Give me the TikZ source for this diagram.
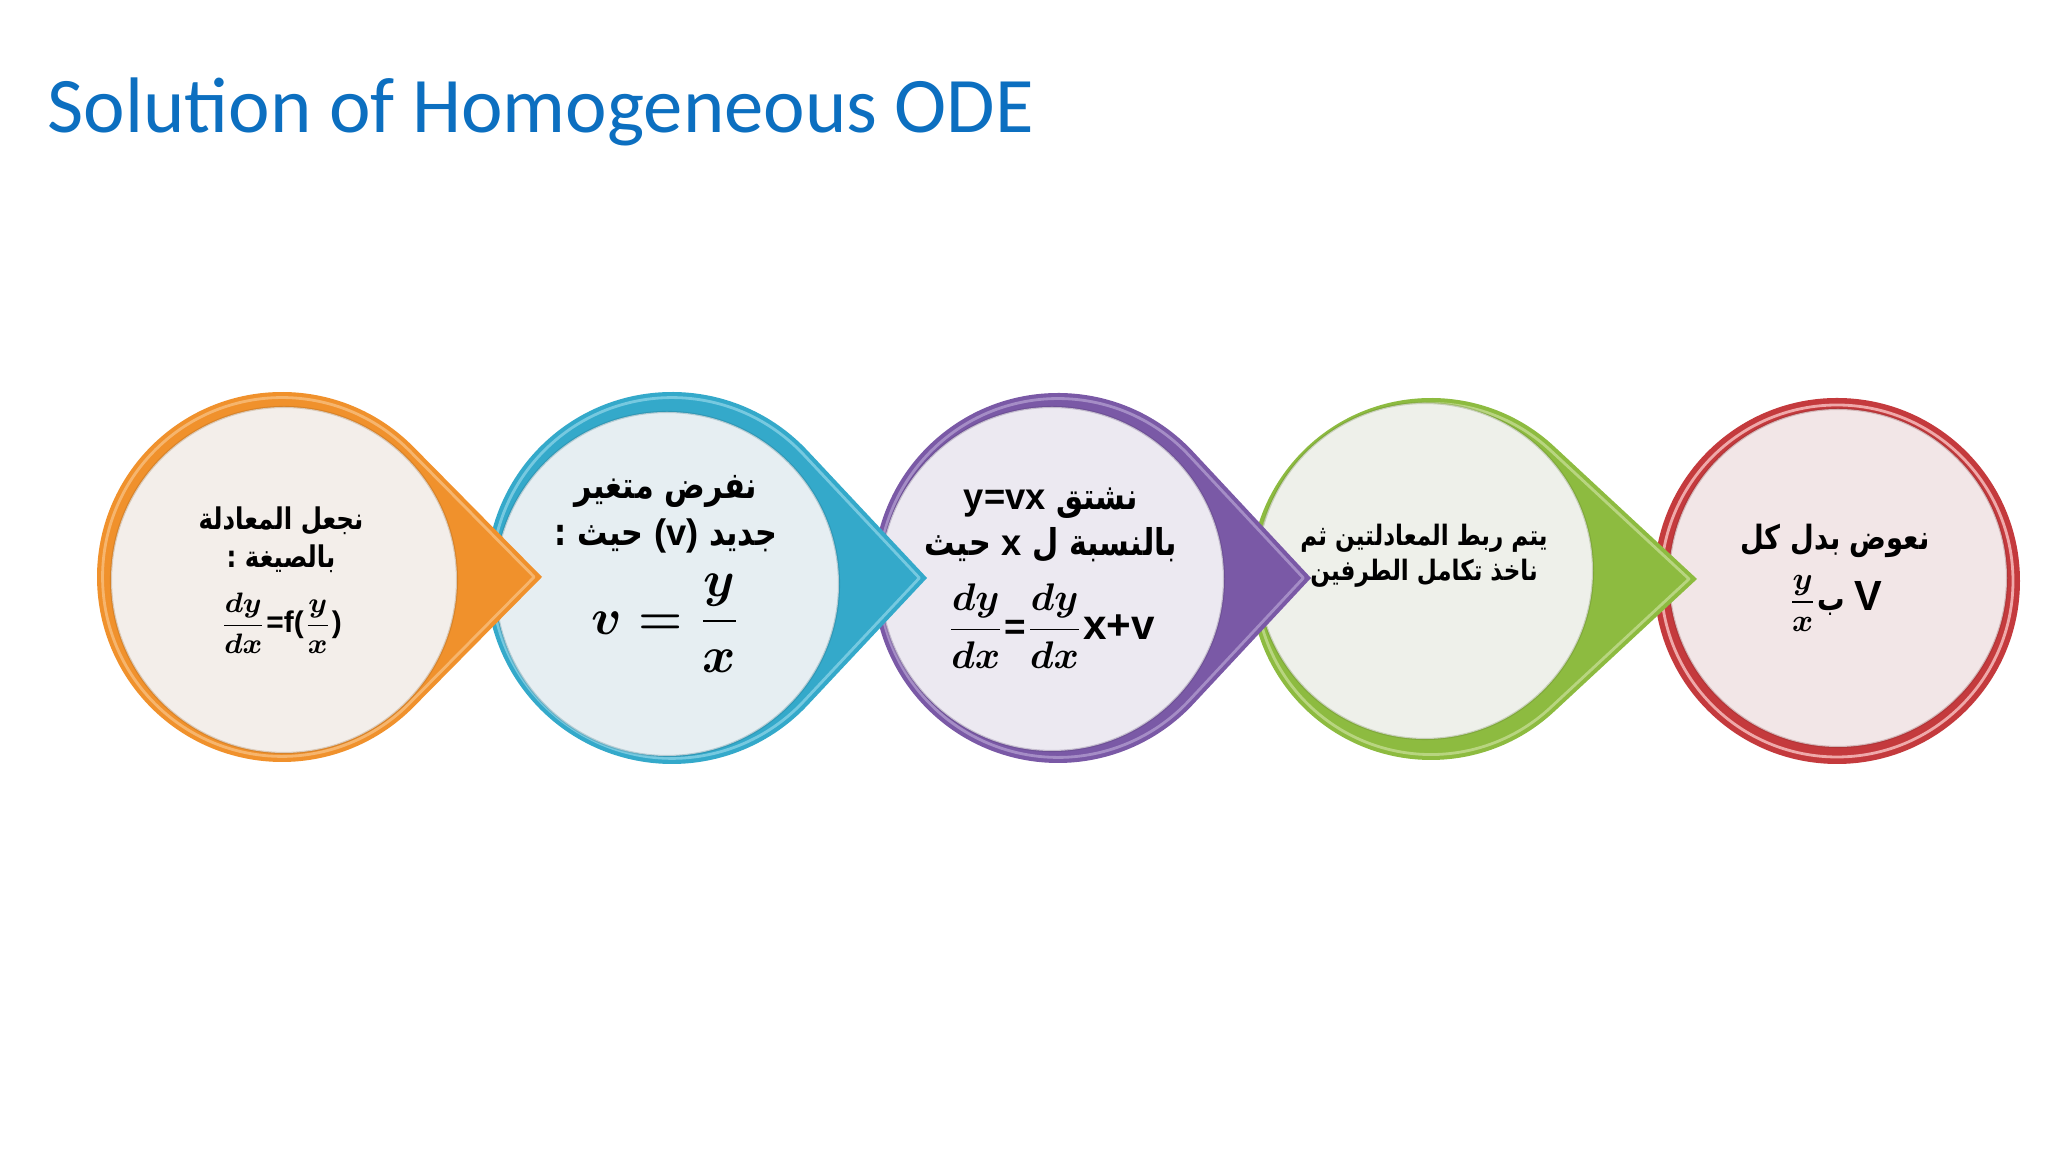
\documentclass[tikz,border=0pt]{standalone}
\usepackage{amsmath}
\usepackage{graphicx}
\usepackage{fontspec}
\setmainfont{Liberation Sans}
\newfontfamily\titlefont{Carlito}
\newfontfamily\arabicfont[Script=Arabic]{DejaVu Sans}
\TeXXeTstate=1

\definecolor{titleblue}{HTML}{0C6FC0}
\definecolor{rimorange}{HTML}{F0912C}
\definecolor{hlorange}{HTML}{F9C58A}
\definecolor{faceorange}{HTML}{F3EEEA}
\definecolor{rimblue}{HTML}{34A9CA}
\definecolor{hlblue}{HTML}{93D7EA}
\definecolor{faceblue}{HTML}{E6EEF2}
\definecolor{rimpurple}{HTML}{7A59A6}
\definecolor{hlpurple}{HTML}{B8A4D4}
\definecolor{facepurple}{HTML}{ECE9F1}
\definecolor{rimgreen}{HTML}{8DBB40}
\definecolor{hlgreen}{HTML}{CBE19C}
\definecolor{facegreen}{HTML}{EEF0EA}
\definecolor{rimred}{HTML}{C43A3D}
\definecolor{hlred}{HTML}{EFA9AA}
\definecolor{facered}{HTML}{F2E6E7}

% arabic lines: DejaVu is wider than the slide font, so squeeze a little
\newcommand{\artext}[1]{\scalebox{.82}[1]{\arabicfont\bfseries\beginR #1\endR}}
\newcommand{\latin}[1]{\beginL\scalebox{1.2}[1]{\rmfamily\bfseries #1}\endL}

\tikzset{
  steptext/.style={align=center,inner sep=0,text=black},
}

\begin{document}
\begin{tikzpicture}
    \pgfmathsetmacro{\slidewidth}{20.48}
    \pgfmathsetmacro{\slideheight}{11.52}
    \providecommand{\titlefontsize}{\fontsize{22.4pt}{27pt}\selectfont}
    \providecommand{\smallstepfont}{\fontsize{8.5pt}{10.8pt}\selectfont\boldmath}
    \providecommand{\stepfont}{\fontsize{10.5pt}{13.2pt}\selectfont\boldmath}
    \providecommand{\joinfont}{\fontsize{8pt}{10pt}\selectfont}
    \providecommand{\laststepfont}{\fontsize{9.5pt}{12pt}\selectfont\boldmath}
    \useasboundingbox (0,0) rectangle (\slidewidth,\slideheight);
    \fill[white] (0,0) rectangle (\slidewidth,\slideheight);
    \node[anchor=base west,inner sep=0,text=titleblue,font=\titlefont\titlefontsize] (title) at (0.47,10.19) {Solution of Homogeneous ODE};

    % last step: plain ring, lies under the green tip
    \fill[rimred] (18.37,5.71) circle (1.83);
    \draw[hlred,line width=.8pt] (18.37,5.71) circle (1.76);
    \fill[facered] (18.38,5.74) circle (1.69);
    \draw[rimred!60!black,opacity=.25,line width=.6pt] (18.38,5.74) circle (1.69);

    % drops, right to left so each tip covers the next one
    \foreach \cx/\cy/\rad/\tip/\fx/\fy/\frad/\col in {14.31/5.73/1.81/2.66/-0.06/0.08/1.68/green,10.58/5.74/1.85/2.53/-0.06/-0.01/1.72/purple,6.72/5.74/1.86/2.55/-0.05/-0.06/1.72/blue,2.82/5.75/1.85/2.60/0.02/-0.03/1.73/orange}
    {
        \pgfmathsetmacro{\tanangle}{acos(\rad/\tip)}
        \begin{scope}[shift={(\cx,\cy)}]
            \fill[rim\col] (\tip,0) -- (\tanangle:\rad) arc[start angle=\tanangle,end angle=360-\tanangle,radius=\rad] -- cycle;
            \begin{scope}[scale=.97]
                \draw[hl\col,opacity=.7,line width=.8pt,line join=round] (\tip,0) -- (\tanangle:\rad) arc[start angle=\tanangle,end angle=360-\tanangle,radius=\rad] -- cycle;
            \end{scope}
            \fill[face\col] (\fx,\fy) circle (\frad);
            \draw[rim\col!60!black,opacity=.25,line width=.6pt] (\fx,\fy) circle (\frad);
        \end{scope}
    }

    \node[steptext,font=\smallstepfont] (form) at (2.81,5.72) {%
        \artext{نجعل المعادلة}\\
        \artext{بالصيغة :}\\[5pt]
        $\dfrac{dy}{dx}$\textbf{=f(}$\dfrac{y}{x}$\textbf{)}};
    \node[steptext,font=\stepfont] (subst) at (6.66,5.78) {%
        \artext{نفرض متغير}\\
        \artext{جديد \latin{(v)} حيث :}\\[5pt]
        \fontsize{14pt}{16pt}\selectfont$v=\dfrac{y}{x}$};
    \node[steptext,font=\stepfont] (deriv) at (10.51,5.74) {%
        \artext{نشتق \latin{y=vx}}\\
        \artext{بالنسبة ل \latin{x} حيث}\\[5pt]
        $\dfrac{dy}{dx}$\textbf{=}$\dfrac{dy}{dx}$\textbf{\large x+v}};
    \node[steptext,font=\joinfont] (join) at (14.24,5.96) {%
        \artext{يتم ربط المعادلتين ثم}\\
        \artext{ناخذ تكامل الطرفين}};
    \node[steptext,font=\laststepfont] (back) at (18.35,5.74) {%
        \artext{نعوض بدل كل}\\[4pt]
        \artext{\latin{\large V} ب\latin{$\dfrac{y}{x}$}}};
\end{tikzpicture}
\end{document}
